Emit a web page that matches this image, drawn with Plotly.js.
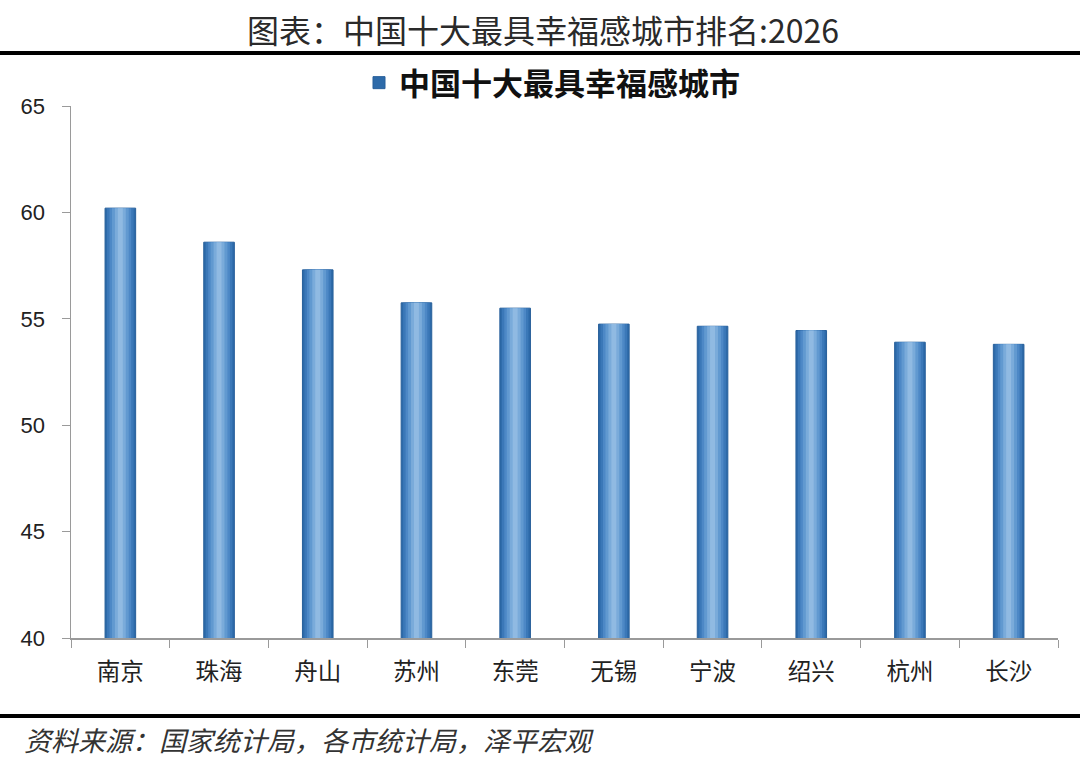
<!DOCTYPE html>
<html>
<head>
<meta charset="utf-8">
<script src="https://cdn.plot.ly/plotly-3.0.1.min.js"></script>
<style>
	html, body { margin: 0; padding: 0; background: #fff; }
	#chart { width: 1080px; height: 759px; }
</style>
</head>
<body>
<div id="chart"></div>
<script>
// 城市与得分
const CITIES = [ '南京', '珠海', '舟山', '苏州', '东莞', '无锡', '宁波', '绍兴', '杭州', '长沙' ];
const SCORES = [ 60.2, 58.6, 57.3, 55.75, 55.5, 54.75, 54.65, 54.45, 53.9, 53.8 ];
const Y_TICKS = [ 40, 45, 50, 55, 60, 65 ];

const SERIES_NAME = '中国十大最具幸福感城市';
const TITLE_TEXT  = '图表：中国十大最具幸福感城市排名:2026';
const SOURCE_TEXT = '资料来源：国家统计局，各市统计局，泽平宏观';

const W = 1080, H = 759;
const M = { l: 71, r: 22, t: 106, b: 121 };
const PW = W - M.l - M.r;
const PH = H - M.t - M.b;

// pixel -> paper coords
function px( x ) { return ( x - M.l ) / PW; }
function py( y ) { return ( H - M.b - y ) / PH; }

const CJK = '"Noto Sans CJK SC", "Noto Sans", sans-serif';

// 圆柱效果：同一数据叠几层，外深内浅
const LAYERS = [
	{ width: 0.31, color: '#2d6aa9' },
	{ width: 0.27, color: '#3b78b8' },
	{ width: 0.22, color: '#4d88c6' },
	{ width: 0.17, color: '#6199d0' },
	{ width: 0.11, color: '#7aabda' },
	{ width: 0.05, color: '#90bae2' }
];

function make_traces() {
	return LAYERS.map( function( l, i ) {
		return {
			type: 'bar',
			x: CITIES,
			y: SCORES,
			width: l.width,
			name: SERIES_NAME,
			showlegend: i === 0,
			hoverinfo: 'x+y',
			marker: {
				color: l.color,
				line: i === 0 ? { width: 1, color: '#275f9a' } : { width: 0 }
			}
		};
	} );
}

var traces = make_traces();

var layout = {
	width : W,
	height: H,
	margin: M,
	paper_bgcolor: '#ffffff',
	plot_bgcolor : '#ffffff',
	barmode: 'overlay',
	title: {
		text: TITLE_TEXT,
		font: { family: CJK, size: 32, color: '#2a2a2a' },
		x: 543 / W, xanchor: 'center',
		y: 1 - 32 / H, yanchor: 'middle',
		xref: 'container'
	},
	showlegend: true,
	legend: {
		orientation: 'h',
		x: px( 552 ), xanchor: 'center',
		y: py( 83 ), yanchor: 'middle',
		font: { family: CJK, size: 31, color: '#111', weight: 'bold' },
		itemwidth: 30
	},
	xaxis: {
		type: 'category',
		showline: true,
		linecolor: '#9a9a9a',
		linewidth: 1.5,
		ticks: 'outside',
		ticklen: 8,
		tickcolor: '#9a9a9a',
		tickson: 'boundaries',
		showgrid: false,
		ticklabelstandoff: 12,
		tickfont: { family: CJK, size: 23.5, color: '#222' },
		fixedrange: true
	},
	yaxis: {
		range: [ 40, 65 ],
		tickvals: Y_TICKS,
		showline: true,
		linecolor: '#9a9a9a',
		linewidth: 1.5,
		ticks: 'outside',
		ticklen: 8,
		tickcolor: '#9a9a9a',
		showgrid: false,
		zeroline: false,
		ticklabelstandoff: 12,
		tickfont: { family: '"Liberation Sans", Arial, sans-serif', size: 22, color: '#222' },
		fixedrange: true
	},
	shapes: [
		{
			type: 'line', xref: 'paper', yref: 'paper',
			x0: px( 0 ), x1: px( W ), y0: py( 53 ), y1: py( 53 ),
			line: { color: '#000', width: 4 }
		},
		{
			type: 'line', xref: 'paper', yref: 'paper',
			x0: px( 0 ), x1: px( W ), y0: py( 716 ), y1: py( 716 ),
			line: { color: '#000', width: 4 }
		}
	],
	annotations: [
		{
			text: '<i>' + SOURCE_TEXT + '</i>',
			xref: 'paper', yref: 'paper',
			x: px( 22 ), xanchor: 'left',
			y: py( 739 ), yanchor: 'middle',
			showarrow: false,
			font: { family: CJK, size: 27, color: '#333' }
		}
	]
};

Plotly.newPlot( 'chart', traces, layout, { displayModeBar: false, staticPlot: true } );
</script>
</body>
</html>
